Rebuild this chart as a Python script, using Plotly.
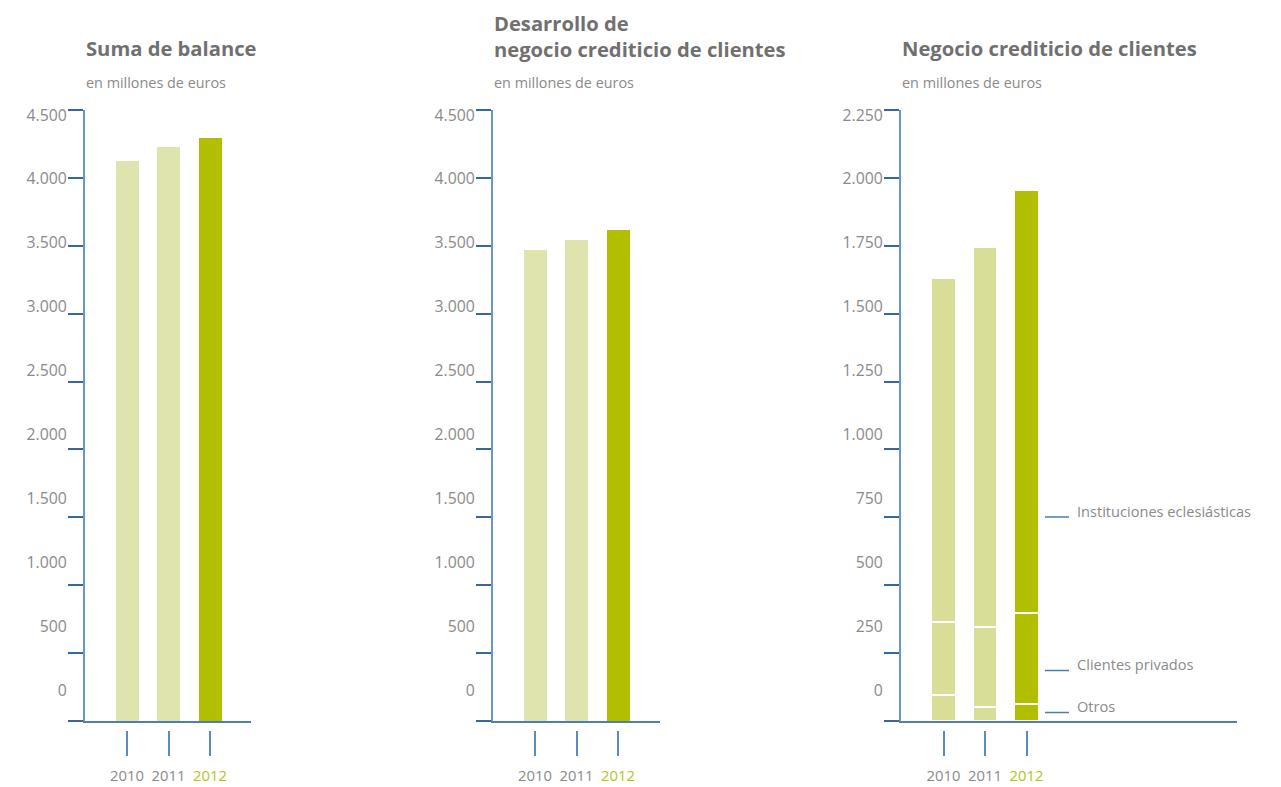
import plotly.graph_objects as go

# ---------------- data ----------------
years = ["2010", "2011", "2012"]
suma_balance = [4125, 4230, 4295]
desarrollo_credito = [3470, 3540, 3615]
otros = [96, 52, 63]
clientes_privados = [268, 294, 335]
instituciones = [1268, 1398, 1557]

ticks_1 = [0, 500, 1000, 1500, 2000, 2500, 3000, 3500, 4000, 4500]
ticks_3 = [0, 250, 500, 750, 1000, 1250, 1500, 1750, 2000, 2250]
tick_text_1 = ["0", "500", "1.000", "1.500", "2.000", "2.500", "3.000", "3.500", "4.000", "4.500"]
tick_text_3 = ["0", "250", "500", "750", "1.000", "1.250", "1.500", "1.750", "2.000", "2.250"]

titles = ["Suma de balance", "Desarrollo de<br>negocio crediticio de clientes", "Negocio crediticio de clientes"]
subtitle = "en millones de euros"
legend_labels = ["Instituciones eclesiásticas", "Clientes privados", "Otros"]

# ---------------- style ----------------
W, H = 1281, 787
LIGHT12 = "#dfe3ae"
LIGHT3 = "#d8dd98"
DARK = "#b2bf00"
AXIS = "#6a96c4"
TICK = "#35689c"
GREY = "#8a8a8a"
TITLE = "#707070"
FONT = "Open Sans"

def fx(p):
    return p / W

def fy(p):
    return 1 - p / H

xs = [0, 1, 2]
ydom = [fy(721), fy(110)]

panels = [
    dict(left=85, right=251, c0=127.0, ymax=4500, tv=ticks_1, tt=tick_text_1),
    dict(left=493, right=660, c0=535.0, ymax=4500, tv=ticks_1, tt=tick_text_1),
    dict(left=901, right=1237, c0=943.5, ymax=2250, tv=ticks_3, tt=tick_text_3),
]
SP = 41.5

fig = go.Figure()

# panel 1 & 2 bars
fig.add_trace(go.Bar(x=xs, y=suma_balance, marker=dict(color=[LIGHT12, LIGHT12, DARK], line=dict(width=0)),
                     width=0.554, xaxis="x", yaxis="y", showlegend=False, hoverinfo="skip"))
fig.add_trace(go.Bar(x=xs, y=desarrollo_credito, marker=dict(color=[LIGHT12, LIGHT12, DARK], line=dict(width=0)),
                     width=0.554, xaxis="x2", yaxis="y2", showlegend=False, hoverinfo="skip"))
# panel 3 stacked
for seg in [otros, clientes_privados, instituciones]:
    fig.add_trace(go.Bar(x=xs, y=seg, marker=dict(color=[LIGHT3, LIGHT3, DARK], line=dict(width=2, color="white")),
                         width=0.6, xaxis="x3", yaxis="y3", showlegend=False, hoverinfo="skip"))

layout = dict(
    width=W, height=H, margin=dict(l=0, r=0, t=0, b=0, autoexpand=False),
    paper_bgcolor="white", plot_bgcolor="rgba(0,0,0,0)",
    barmode="stack", showlegend=False,
    font=dict(family=FONT, color=GREY, size=14),
)

year_text = ["2010", "2011", '<span style="color:#b5c320">2012</span>']
annotations = []
shapes = []

for i, p in enumerate(panels):
    n = i + 1
    sx = "" if n == 1 else str(n)
    r0 = -(p["c0"] - p["left"]) / SP
    r1 = 2 + (p["right"] - (p["c0"] + 2 * SP)) / SP
    M = p["ymax"]
    layout["xaxis" + sx] = dict(domain=[fx(p["left"]), fx(p["right"])], range=[r0, r1], anchor="y" + sx,
                                showline=True, linecolor="#4f7fb0", linewidth=1.5, ticks="", showticklabels=False,
                                showgrid=False, zeroline=False, fixedrange=True, automargin=False)
    layout["yaxis" + sx] = dict(domain=ydom, range=[0, M], anchor="x" + sx,
                                showline=True, linecolor=AXIS, linewidth=1.5,
                                tickmode="array", tickvals=p["tv"], ticks="outside", ticklen=15,
                                tickcolor=TICK, tickwidth=1.5, showticklabels=False,
                                showgrid=False, zeroline=False, fixedrange=True, automargin=False)
    # year tick axis (lower, detached)
    xa = "xaxis" + str(n + 3)
    layout[xa] = dict(overlaying="x" + sx, anchor="free", position=fy(730), range=[r0, r1],
                      showline=False, tickmode="array", tickvals=xs, ticktext=year_text,
                      ticks="outside", ticklen=25, tickcolor="#5b8ac0", tickwidth=1.5,
                      ticklabelstandoff=7,
                      tickfont=dict(family=FONT, size=14.8, color=GREY),
                      showgrid=False, zeroline=False, fixedrange=True, automargin=False)
    # value label axis (labels are offset from ticks in the original)
    ya = "yaxis" + str(n + 3)
    layout[ya] = dict(overlaying="y" + sx, anchor="free", position=fx(p["left"]),
                      range=[-31 / 575 * M, M + 5 / 575 * M],
                      showline=False, tickmode="array", tickvals=p["tv"], ticktext=p["tt"],
                      ticks="outside", ticklen=15, tickcolor="rgba(0,0,0,0)",
                      tickfont=dict(family=FONT, size=15.8, color=GREY),
                      showgrid=False, zeroline=False, fixedrange=True, automargin=False)
    fig.add_trace(go.Scatter(x=[None], y=[None], xaxis="x" + str(n + 3), yaxis="y" + sx,
                             showlegend=False, hoverinfo="skip"))
    fig.add_trace(go.Scatter(x=[None], y=[None], xaxis="x" + sx, yaxis="y" + str(n + 3),
                             showlegend=False, hoverinfo="skip"))

    # titles
    t = titles[i]
    two = "<br>" in t
    annotations.append(dict(text="<b>" + t + "</b>", xref="paper", yref="paper", x=fx(p["left"] - 1),
                            y=fy(36.5 if two else 48), xanchor="left", yanchor="middle", showarrow=False,
                            align="left", font=dict(family=FONT, size=20.2, color=TITLE)))
    annotations.append(dict(text=subtitle, xref="paper", yref="paper", x=fx(p["left"] - 1), y=fy(83),
                            xanchor="left", yanchor="middle", showarrow=False,
                            font=dict(family=FONT, size=14.4, color=GREY)))

# legend of panel 3
for lab, ty, ly in zip(legend_labels, [511, 664, 706], [517, 670.5, 712.5]):
    annotations.append(dict(text=lab, xref="paper", yref="paper", x=fx(1075), y=fy(ty),
                            xanchor="left", yanchor="middle", showarrow=False,
                            font=dict(family=FONT, size=14.6, color=GREY)))
    shapes.append(dict(type="line", xref="paper", yref="paper", x0=fx(1045), x1=fx(1069), y0=fy(ly), y1=fy(ly),
                       line=dict(color="#4a7db3", width=1.5)))

layout["annotations"] = annotations
layout["shapes"] = shapes
fig.update_layout(**layout)
fig.write_html("out.html")
